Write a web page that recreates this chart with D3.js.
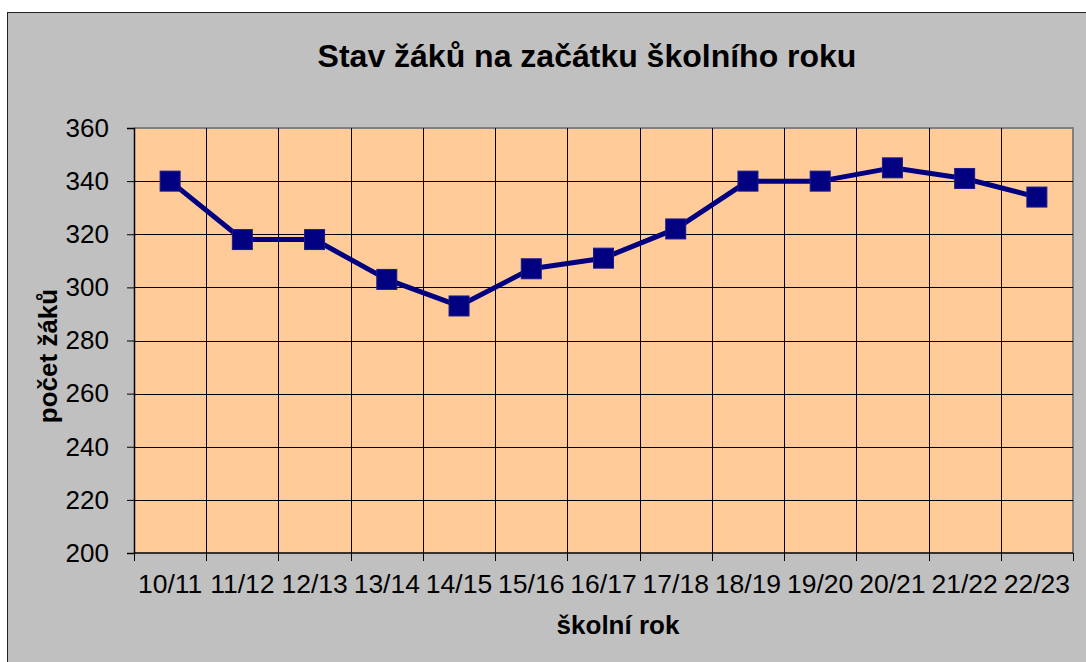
<!DOCTYPE html>
<html>
<head>
<meta charset="utf-8">
<script src="https://cdn.jsdelivr.net/npm/d3@7"></script>
<style>
    html, body { margin: 0; padding: 0; background: #ffffff; }
    svg { display: block; font-family: Arial, "Liberation Sans", sans-serif; }
</style>
</head>
<body>
<div id="chart"></div>
<script>
// school years and pupil counts
const years = ['10/11', '11/12', '12/13', '13/14', '14/15', '15/16', '16/17', '17/18', '18/19', '19/20', '20/21', '21/22', '22/23'];
const pupils = [340, 318, 318, 303, 293, 307, 311, 322, 340, 340, 345, 341, 334];
const yTicks = [200, 220, 240, 260, 280, 300, 320, 340, 360];

const width = 1086;
const height = 662;
const plot = { left: 134, right: 1073, top: 128, bottom: 553 };

const svg = d3.select('#chart')
    .append('svg')
    .attr('width', width)
    .attr('height', height);

// chart background
svg.append('rect')
    .attr('x', 7.5).attr('y', 12.5)
    .attr('width', width + 10).attr('height', height + 10)
    .attr('fill', '#c0c0c0')
    .attr('stroke', '#222')
    .attr('stroke-width', 1);

const x = d3.scaleBand()
    .domain(years)
    .range([plot.left, plot.right]);

const y = d3.scaleLinear()
    .domain([200, 360])
    .range([plot.bottom, plot.top]);

// plot area
svg.append('rect')
    .attr('x', plot.left).attr('y', plot.top)
    .attr('width', plot.right - plot.left)
    .attr('height', plot.bottom - plot.top)
    .attr('fill', '#ffcc99');

// shadow border on top and right
svg.append('path')
    .attr('d', `M${plot.left},${plot.top} H${plot.right} V${plot.bottom}`)
    .attr('fill', 'none')
    .attr('stroke', '#808080')
    .attr('stroke-width', 2);

// horizontal gridlines
svg.append('g')
    .selectAll('line')
    .data(yTicks.slice(1, -1))
    .join('line')
    .attr('x1', plot.left).attr('x2', plot.right)
    .attr('y1', d => Math.round(y(d)) + 0.5)
    .attr('y2', d => Math.round(y(d)) + 0.5)
    .attr('stroke', '#000')
    .attr('stroke-width', 1);

// vertical gridlines at category boundaries
svg.append('g')
    .selectAll('line')
    .data(years.slice(1))
    .join('line')
    .attr('x1', d => Math.round(x(d)) + 0.5)
    .attr('x2', d => Math.round(x(d)) + 0.5)
    .attr('y1', plot.top).attr('y2', plot.bottom)
    .attr('stroke', '#000')
    .attr('stroke-width', 1);

// Left Y-axis
const yAxis = svg.append('g')
    .attr('transform', `translate(${plot.left},0)`)
    .call(d3.axisLeft(y).tickValues(yTicks).tickSize(7).tickPadding(18));
yAxis.select('.domain').attr('stroke', '#000').attr('stroke-width', 1.5);
yAxis.selectAll('.tick line').attr('stroke', '#000');
yAxis.selectAll('.tick text')
    .attr('font-size', 26)
    .attr('font-family', 'Arial, "Liberation Sans", sans-serif')
    .attr('fill', '#000');

// Bottom X-axis, ticks at category boundaries
const xAxis = svg.append('g')
    .attr('transform', `translate(0,${plot.bottom})`);
xAxis.append('line')
    .attr('x1', plot.left).attr('x2', plot.right)
    .attr('y1', 0).attr('y2', 0)
    .attr('stroke', '#000').attr('stroke-width', 1.5);
xAxis.selectAll('line.tk')
    .data(years.concat(['end']))
    .join('line')
    .attr('class', 'tk')
    .attr('x1', (d, i) => Math.round(i < years.length ? x(d) : plot.right) + 0.5)
    .attr('x2', (d, i) => Math.round(i < years.length ? x(d) : plot.right) + 0.5)
    .attr('y1', 0).attr('y2', 8)
    .attr('stroke', '#000');
xAxis.selectAll('text')
    .data(years)
    .join('text')
    .attr('x', d => x(d) + x.bandwidth() / 2)
    .attr('y', 40)
    .attr('text-anchor', 'middle')
    .attr('font-size', 26.5)
    .attr('fill', '#000')
    .text(d => d);

// line
const line = d3.line()
    .x((d, i) => x(years[i]) + x.bandwidth() / 2)
    .y(d => y(d));

svg.append('path')
    .datum(pupils)
    .attr('d', line)
    .attr('fill', 'none')
    .attr('stroke', '#000080')
    .attr('stroke-width', 5)
    .attr('stroke-linejoin', 'round');

// square markers
const m = 20;
svg.append('g')
    .selectAll('rect')
    .data(pupils)
    .join('rect')
    .attr('x', (d, i) => x(years[i]) + x.bandwidth() / 2 - m / 2)
    .attr('y', d => y(d) - m / 2)
    .attr('width', m)
    .attr('height', m)
    .attr('fill', '#000080')
    .attr('stroke', '#1a1a8c')
    .attr('stroke-width', 1);

// title
svg.append('text')
    .attr('x', 587)
    .attr('y', 67)
    .attr('text-anchor', 'middle')
    .attr('font-size', 32)
    .attr('font-weight', 'bold')
    .attr('fill', '#000')
    .text('Stav žáků na začátku školního roku');

// x axis title
svg.append('text')
    .attr('x', 618)
    .attr('y', 634)
    .attr('text-anchor', 'middle')
    .attr('font-size', 26)
    .attr('font-weight', 'bold')
    .attr('fill', '#000')
    .text('školní rok');

// y axis title
svg.append('text')
    .attr('transform', 'translate(57,356) rotate(-90)')
    .attr('text-anchor', 'middle')
    .attr('font-size', 26)
    .attr('font-weight', 'bold')
    .attr('fill', '#000')
    .text('počet žáků');
</script>
</body>
</html>
